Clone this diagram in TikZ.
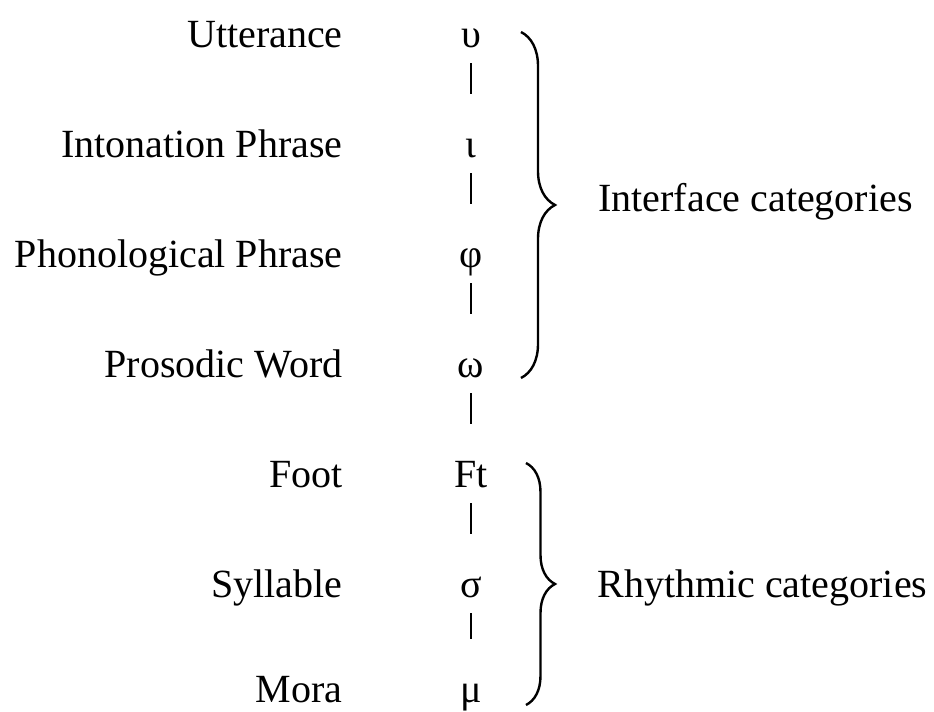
\documentclass[tikz,border=0pt]{standalone}
\usepackage{fontspec}
\setmainfont{Liberation Serif}
\usetikzlibrary{decorations.pathreplacing}
\begin{document}
\begin{tikzpicture}[x=0.5pt,y=-0.5pt,
  level/.style={anchor=base east,inner sep=0pt,font=\fontsize{20}{24}\selectfont},
  sym/.style={anchor=base,inner sep=0pt,font=\fontsize{20}{24}\selectfont},
  cat/.style={anchor=base west,inner sep=0pt,font=\fontsize{20}{24}\selectfont},
  bar/.style={line width=1.2pt,shorten <=8pt,shorten >=31.5pt},
  bracket/.style={line width=1.2pt,decorate,decoration={brace,amplitude=#1}}]
  \useasboundingbox (0,0) rectangle (934,712);

  \node[level] (utt) at (343,47) {Utterance};%
  \node[level] (ip)  at (343,157) {Intonation Phrase};%
  \node[level] (pp)  at (343,267) {Phonological Phrase};%
  \node[level] (pw)  at (343,377) {Prosodic Word};%
  \node[level] (ft)  at (343,487) {Foot};%
  \node[level] (syl) at (343,597) {Syllable};%
  \node[level] (mor) at (343,702) {Mora};%

  \node[sym] (su) at (471,47) {υ};%
  \node[sym] (si) at (471,157) {ι};%
  \node[sym] (sp) at (471,267) {φ};%
  \node[sym] (sw) at (471,377) {ω};%
  \node[sym] (sf) at (471,487) {Ft};%
  \node[sym] (ss) at (471,597) {σ};%
  \node[sym] (sm) at (471,702) {μ};%

  \draw[bar] (su.base) -- (si.base);
  \draw[bar] (si.base) -- (sp.base);
  \draw[bar] (sp.base) -- (sw.base);
  \draw[bar] (sw.base) -- (sf.base);
  \draw[bar] (sf.base) -- (ss.base);
  \draw[bar] (ss.base) -- (sm.base);

  \coordinate (ifTop) at (521,32);
  \coordinate (ifBot) at (521,378);
  \coordinate (rhTop) at (526,463);
  \coordinate (rhBot) at (526,705);
  \draw[bracket=17pt] (ifTop) -- (ifBot);
  \draw[bracket=14.5pt] (rhTop) -- (rhBot);

  \node[cat] (ifc) at (598,212) {Interface categories};
  \node[cat] (rhc) at (597,597) {Rhythmic categories};
\end{tikzpicture}
\end{document}
